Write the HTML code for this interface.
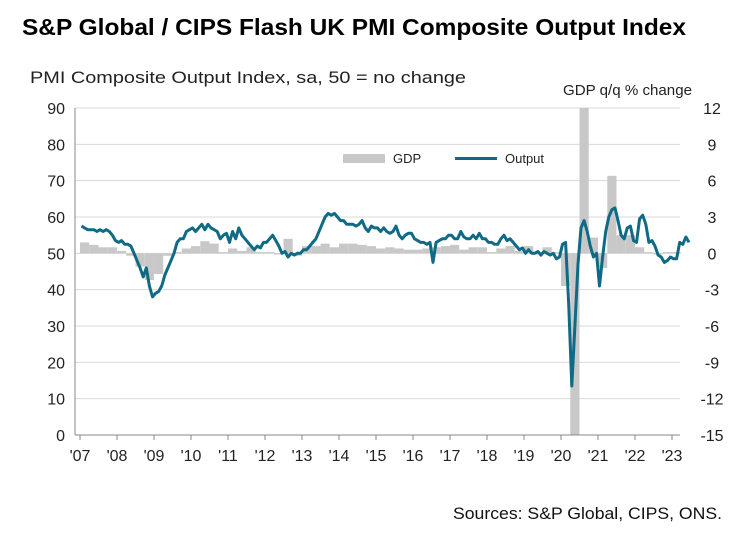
<!DOCTYPE html>
<html><head><meta charset="utf-8"><style>
body{margin:0;background:#fff;font-family:"Liberation Sans",Arial,sans-serif;}
svg text{font-family:"Liberation Sans",Arial,sans-serif;}
</style></head><body>
<svg id="c" width="749" height="539">
<text x="22" y="35" font-size="23" font-weight="bold" fill="#000" textLength="664" lengthAdjust="spacingAndGlyphs">S&amp;P Global / CIPS Flash UK PMI Composite Output Index</text>
<text x="30" y="83" font-size="17" fill="#222" textLength="436" lengthAdjust="spacingAndGlyphs">PMI Composite  Output Index, sa, 50 = no change</text>
<text x="563" y="95" font-size="15" fill="#222" textLength="129" lengthAdjust="spacingAndGlyphs">GDP q/q % change</text>
<text x="453" y="519" font-size="17" fill="#111" textLength="269" lengthAdjust="spacingAndGlyphs">Sources: S&amp;P Global, CIPS, ONS.</text>
<g id="grid"></g><g id="bars"></g><g id="line"></g><g id="axes"></g>
<g>
<rect x="343" y="154" width="42" height="9" fill="#c8c8c8"/>
<text x="393" y="163" font-size="13" fill="#222">GDP</text>
<line x1="455" y1="158.5" x2="497" y2="158.5" stroke="#0e6a85" stroke-width="3"/>
<text x="505" y="163" font-size="13" fill="#222">Output</text>
</g>
</svg>
<script>
const years=['\'07','\'08','\'09','\'10','\'11','\'12','\'13','\'14','\'15','\'16','\'17','\'18','\'19','\'20','\'21','\'22','\'23'];
const leftTicks=[0,10,20,30,40,50,60,70,80,90];
const rightTicks=[-15,-12,-9,-6,-3,0,3,6,9,12];
const pmi=[57.5,57,56.5,56.5,56.5,56,56.5,56,56.5,56,55,53.5,
53,53.5,52.5,52.5,52,50,48,46,43.5,46,41,38,
39,39.5,41,44,46,48,50,53,54,54,56,56.5,
57,56,57,58,56.5,58,57,56.5,56,54,55,55.5,
53,56,54,57,55,54,53,52,51,52,51.5,53,
53,54,55,53.5,52,50,50.5,49,50,49.5,50,50,
51,51,52,53,54,56,58,60,61,60.5,61,60,
59,59,58,58,58,57.5,58,59,57,56,57.5,57,
57,56,57,56,55.5,56,57.5,55,54,55,55.5,55.5,
54,53.5,53,53,52.5,53,47.5,53,53.5,54,54,55,
55,54,54,56,54.5,54,54,55,54,55.5,54,54,
53,53,52.5,52.5,54,55,53.5,54,53,52,51,51.5,
50,51,50,50,50.5,49.5,50.5,50,49.5,50,48.5,49,
52.5,53,36,13.5,30,47,57,59,56,52,49,50,
41,49,56,60,62,62.5,59,55,54,57,57.5,53.5,
53,59.5,60.5,58,53,53.5,52,49.5,49,47.5,48,49,
48.5,48.5,53,52.5,54.5,53];
const gdp=[0.9,0.7,0.5,0.5, 0.2,-0.2,-1.1,-2.2, -1.7,-0.2,0.1,0.4, 0.6,1.0,0.8,0.1, 0.4,0.2,0.5,0.1,
0.1,-0.1,1.2,-0.2, 0.6,0.6,0.8,0.5, 0.8,0.8,0.7,0.6, 0.4,0.5,0.4,0.3, 0.3,0.4,0.5,0.6,
0.7,0.3,0.5,0.5, 0.1,0.4,0.6,0.2, 0.6,-0.1,0.5,0.1, -2.7,-21.0,16.9,1.3, -1.2,6.4,1.5,1.5,
0.5,0.1,-0.1,0.1, 0.1];
const X0=80,YW=37,T=108,B=435;
const xm=m=>X0+m*YW/12;
const yL=v=>B-(v/90)*(B-T);
const yR=v=>B-((v+15)/27)*(B-T);
const NS='http://www.w3.org/2000/svg';
function mk(p,t,a){const e=document.createElementNS(NS,t);for(const k in a)e.setAttribute(k,a[k]);document.getElementById(p).appendChild(e);return e;}
leftTicks.forEach(v=>{
 if(v>0){const g=mk('grid','line',{x1:75,x2:680,y1:yL(v),y2:yL(v),stroke:'#d9d9d9','stroke-width':1});
 
 }
 const t=mk('axes','text',{x:65,y:yL(v)+6,'font-size':16,'text-anchor':'end',fill:'#222'});t.textContent=v;
 
 
});
rightTicks.forEach(v=>{
 const t=mk('axes','text',{x:712,y:yR(v)+6,'font-size':16,'text-anchor':'middle',fill:'#222'});t.textContent=v;
 
 
});
years.forEach((y,i)=>{
 const t=mk('axes','text',{x:X0+i*YW,y:461,'font-size':16,'text-anchor':'middle',fill:'#222'});t.textContent=y;
 
 
 const k=mk('axes','line',{x1:X0+i*YW,x2:X0+i*YW,y1:B,y2:B+5,stroke:'#888'});
 
 
});
const ax=mk('axes','line',{x1:75,x2:75,y1:T,y2:B,stroke:'#888'});


const bx=mk('axes','line',{x1:75,x2:680,y1:B,y2:B,stroke:'#888'});


gdp.forEach((v,i)=>{
 const cx=xm(i*3+1.5);let a=yR(0),b=yR(v);
 a=Math.max(T,Math.min(B,a));b=Math.max(T,Math.min(B,b));
 const r=mk('bars','rect',{x:cx-4.6,width:9.2,y:Math.min(a,b),height:Math.abs(a-b),fill:'#c8c8c8'});
 
 
});
const d=pmi.map((v,i)=>(i?'L':'M')+xm(i+0.5).toFixed(1)+','+yL(v).toFixed(1)).join('');
const p=mk('line','path',{d:d,fill:'none',stroke:'#0e6a85','stroke-width':3,'stroke-linejoin':'round'});


</script>
</body></html>
